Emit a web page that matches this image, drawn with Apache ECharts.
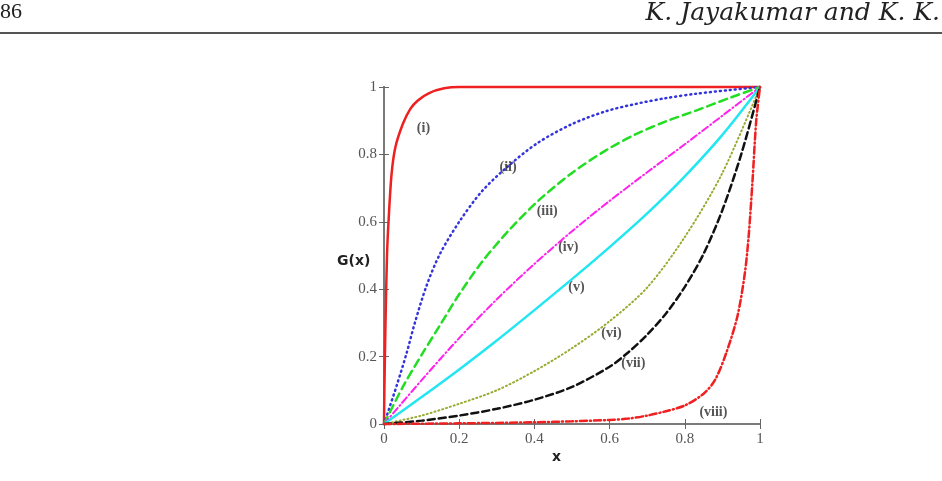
<!DOCTYPE html>
<html>
<head>
<meta charset="utf-8">
<script src="https://cdn.jsdelivr.net/npm/echarts@6/dist/echarts.min.js"></script>
<style>
  html, body { margin: 0; padding: 0; background: #fff; }
  #chart { width: 942px; height: 481px; }
</style>
</head>
<body>
<div id="chart"></div>
<script>
// curves, [x, G(x)]
const curveI = [[0, 0], [0.001, 0.1], [0.004, 0.3], [0.008, 0.5], [0.012, 0.6], [0.02, 0.74], [0.03, 0.82], [0.05, 0.89], [0.07, 0.935], [0.09, 0.96], [0.12, 0.982], [0.16, 0.996], [0.2, 1], [0.6, 1], [1, 1]];
const curveII = [[0, 0], [0.034, 0.115], [0.06, 0.21], [0.082, 0.3], [0.113, 0.41], [0.149, 0.505], [0.2, 0.6], [0.26, 0.69], [0.33, 0.765], [0.41, 0.835], [0.5, 0.89], [0.59, 0.928], [0.67, 0.95], [0.75, 0.967], [0.83, 0.98], [0.92, 0.991], [1, 1]];
const curveIII = [[0, 0], [0.05, 0.11], [0.1, 0.205], [0.15, 0.295], [0.2, 0.385], [0.26, 0.48], [0.33, 0.572], [0.41, 0.662], [0.5, 0.745], [0.59, 0.812], [0.67, 0.86], [0.75, 0.898], [0.83, 0.93], [0.92, 0.968], [1, 1]];
const curveIV = [[0, 0], [0.1, 0.13], [0.2, 0.255], [0.3, 0.37], [0.4, 0.475], [0.5, 0.572], [0.6, 0.662], [0.7, 0.747], [0.8, 0.83], [0.9, 0.915], [1, 1]];
const curveV = [[0, 0], [0.1, 0.08], [0.2, 0.162], [0.3, 0.248], [0.4, 0.338], [0.5, 0.43], [0.6, 0.525], [0.7, 0.625], [0.8, 0.735], [0.9, 0.858], [1, 1]];
const curveVI = [[0, 0], [0.1, 0.025], [0.2, 0.06], [0.3, 0.1], [0.4, 0.157], [0.5, 0.225], [0.6, 0.305], [0.7, 0.405], [0.8, 0.555], [0.9, 0.745], [1, 1]];
const curveVII = [[0, 0], [0.1, 0.01], [0.2, 0.025], [0.3, 0.045], [0.4, 0.072], [0.5, 0.11], [0.6, 0.17], [0.65, 0.213], [0.7, 0.265], [0.75, 0.328], [0.8, 0.407], [0.85, 0.505], [0.9, 0.635], [0.95, 0.8], [1, 1]];
const curveVIII = [[0, 0], [0.2, 0.002], [0.4, 0.005], [0.5, 0.008], [0.6, 0.012], [0.65, 0.016], [0.7, 0.025], [0.75, 0.038], [0.8, 0.055], [0.85, 0.09], [0.88, 0.13], [0.91, 0.21], [0.94, 0.32], [0.96, 0.45], [0.97, 0.56], [0.98, 0.72], [0.99, 0.9], [1, 1]];

const curveNames = ["(i)", "(ii)", "(iii)", "(iv)", "(v)", "(vi)", "(vii)", "(viii)"];
const labelPositions = [[0.105, 0.876], [0.33, 0.76], [0.434, 0.632], [0.49, 0.525], [0.512, 0.404], [0.605, 0.268], [0.663, 0.18], [0.876, 0.035]];
const xTicks = [0, 0.2, 0.4, 0.6, 0.8, 1];

const chart = echarts.init(document.getElementById("chart"));

const frameColor = "#7a7a7a";
const tickLabel = { color: "#555", fontFamily: "Liberation Serif", fontSize: 15 };

function curve(data, color, width, dash) {
  return {
    type: "line",
    data: data,
    showSymbol: false,
    smooth: 0.3,
    clip: false,
    z: 3,
    lineStyle: { color: color, width: width, type: dash, cap: dash === "solid" ? "butt" : "round" }
  };
}

const option = {
  backgroundColor: "#fff",
  animation: false,
  grid: { left: 384, top: 87, right: 182, bottom: 57 },
  xAxis: [
    {
      type: "value", min: 0, max: 1, interval: 0.2,
      axisLine: { lineStyle: { color: frameColor, width: 2 } },
      axisTick: { inside: true, length: 5, lineStyle: { color: "#666" } },
      axisLabel: Object.assign({ margin: 8, formatter: v => xTicks.includes(v) ? String(v) : "" }, tickLabel),
      splitLine: { show: false }
    },
    {
      type: "value", position: "top", min: 0, max: 1, interval: 0.2,
      axisLine: { lineStyle: { color: frameColor, width: 2 } },
      axisTick: { inside: true, length: 5, lineStyle: { color: "#666" } },
      axisLabel: { show: false },
      splitLine: { show: false }
    }
  ],
  yAxis: [
    {
      type: "value", min: 0, max: 1, interval: 0.2,
      axisLine: { show: true, lineStyle: { color: frameColor, width: 2 } },
      axisTick: { show: true, inside: true, length: 5, lineStyle: { color: "#666" } },
      axisLabel: Object.assign({ margin: 7 }, tickLabel),
      splitLine: { show: false }
    },
    {
      type: "value", position: "right", min: 0, max: 1, interval: 0.2,
      axisLine: { show: true, lineStyle: { color: frameColor, width: 2 } },
      axisTick: { show: true, inside: true, length: 5, lineStyle: { color: "#666" } },
      axisLabel: { show: false },
      splitLine: { show: false }
    }
  ],
  graphic: [
    { type: "text", left: 0, top: 1, style: { text: "86", font: "22px 'Liberation Serif'", fill: "#222" } },
    { type: "text", right: 2, top: 1, style: { text: "K. Jayakumar and K. K.", font: "italic 25px 'DejaVu Serif'", fill: "#222" } },
    { type: "rect", left: 0, top: 32, shape: { width: 942, height: 2 }, style: { fill: "#555" } },
    { type: "text", left: 337, top: 254, style: { text: "G(x)", font: "bold 14px 'DejaVu Sans'", fill: "#222" } },
    { type: "text", left: 552, top: 450, style: { text: "x", font: "bold 14px 'DejaVu Sans'", fill: "#222" } }
  ],
  series: [
    curve(curveI, "#ee2020", 2.5, "solid"),
    curve(curveII, "#3333dd", 2.5, [1, 4]),
    curve(curveIII, "#22dd22", 2.5, [8, 5]),
    curve(curveIV, "#ff22ee", 2, [7, 3, 1, 3]),
    curve(curveV, "#22e6f0", 2.5, "solid"),
    curve(curveVI, "#9aaa30", 2, [1, 3]),
    curve(curveVII, "#111", 2.5, [7, 4]),
    curve(curveVIII, "#ee2020", 2.5, [7, 3, 1, 3]),
    {
      type: "scatter",
      symbolSize: 0,
      z: 5,
      data: labelPositions.map((p, i) => ({ name: curveNames[i], value: p })),
      label: {
        show: true,
        position: "inside",
        formatter: p => p.name,
        fontFamily: "Liberation Serif",
        fontWeight: "bold",
        fontSize: 14,
        color: "#2a2a2a"
      }
    }
  ]
};

chart.setOption(option);
</script>
</body>
</html>
